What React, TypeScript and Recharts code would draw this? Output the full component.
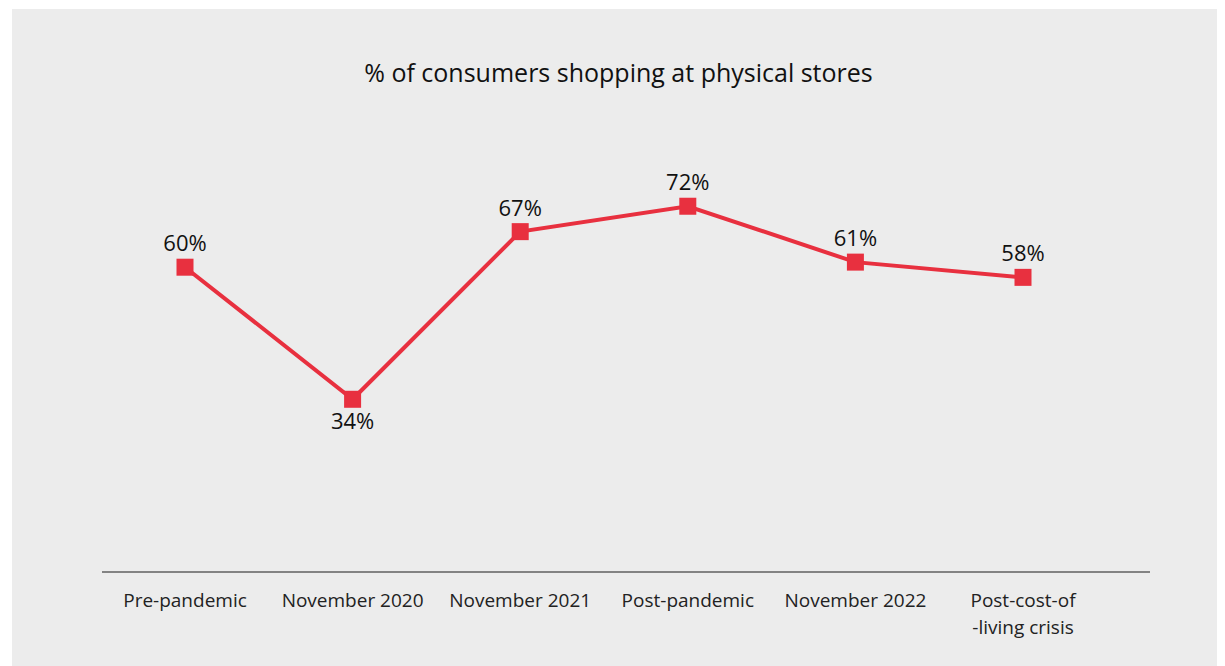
import React from 'react';
import { LineChart, Line, XAxis, YAxis, LabelList } from 'recharts';

const periods = ['Pre-pandemic', 'November 2020', 'November 2021', 'Post-pandemic', 'November 2022', 'Post-cost-of\n-living crisis'];
const shares = [60, 34, 67, 72, 61, 58];

const data = periods.map((p, i) => ({ period: p, share: shares[i] }));

const FONT = '"Open Sans", "Noto Sans", sans-serif';

const Tick = (props: any) => {
  const { x, y, payload } = props;
  const lines = String(payload.value).split('\n');
  return (
    <text x={x} y={y} textAnchor="middle" fill="#222" fontSize={19} fontFamily={FONT}>
      {lines.map((l, i) => (
        <tspan key={i} x={x} dy={27}>{l}</tspan>
      ))}
    </text>
  );
};

// label goes under the point when it is a dip, above otherwise
const PointLabel = (props: any) => {
  const { x, y, value, index } = props;
  const prev = shares[index - 1];
  const next = shares[index + 1];
  const below = prev !== undefined && next !== undefined && value < prev && value < next;
  return (
    <text x={x} y={below ? y + 30 : y - 16} textAnchor="middle" fill="#111" fontSize={22} fontFamily={FONT}>
      {value}%
    </text>
  );
};

const Square = (props: any) => {
  const { cx, cy } = props;
  return <rect x={cx - 8.5} y={cy - 8.5} width={17} height={17} fill="#e8303f" />;
};

export default function App() {
  return (
    <div style={{ position: 'relative', marginLeft: 4, marginTop: 1, width: 1213, height: 657, background: '#ececec' }}>
      <div style={{ position: 'absolute', top: 46, left: 0, width: '100%', textAlign: 'center', fontFamily: FONT, fontSize: 25, color: '#111' }}>
        % of consumers shopping at physical stores
      </div>
      <LineChart width={1213} height={657} data={data} margin={{ top: 55, right: 75, bottom: 64, left: 90 }}>
        <XAxis
          dataKey="period"
          padding={{ left: 83, right: 127 }}
          axisLine={{ stroke: '#1a1a1a', strokeWidth: 1 }}
          tickLine={false}
          tick={<Tick />}
          interval={0}
        />
        <YAxis hide domain={[0, 100]} />
        <Line
          type="linear"
          dataKey="share"
          stroke="#e8303f"
          strokeWidth={4}
          dot={<Square />}
          activeDot={false}
          isAnimationActive={false}
        >
          <LabelList dataKey="share" content={<PointLabel />} />
        </Line>
      </LineChart>
    </div>
  );
}
